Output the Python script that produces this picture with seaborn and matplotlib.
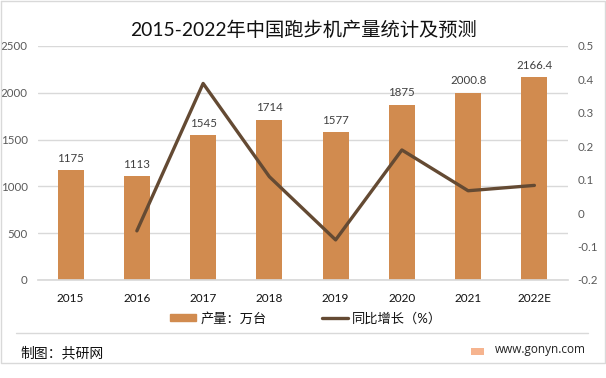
import matplotlib
matplotlib.use("Agg")
import matplotlib.pyplot as plt
from matplotlib.patches import Rectangle
from matplotlib.lines import Line2D
import seaborn as sns
import pandas as pd

years = ["2015", "2016", "2017", "2018", "2019", "2020", "2021", "2022E"]
output = [1175, 1113, 1545, 1714, 1577, 1875, 2000.8, 2166.4]
output_labels = ["1175", "1113", "1545", "1714", "1577", "1875", "2000.8", "2166.4"]
growth = [None, -0.053, 0.388, 0.109, -0.08, 0.189, 0.067, 0.083]
left_ticks = [0, 500, 1000, 1500, 2000, 2500]
right_ticks = [-0.2, -0.1, 0, 0.1, 0.2, 0.3, 0.4, 0.5]
right_labels = ["-0.2", "-0.1", "0", "0.1", "0.2", "0.3", "0.4", "0.5"]
title = "2015-2022年中国跑步机产量统计及预测"
bar_name = "产量：万台"
line_name = "同比增长（%）"
credit = "制图：共研网"
site = "www.gonyn.com"

sns.set_theme(style="white")
FONT = ["Lato", "Noto Sans CJK SC", "DejaVu Sans"]
plt.rcParams["font.family"] = FONT

BAR = "#D18B4F"
LINE = "#644A33"
GRID = "#D9D9D9"
TICK = "#595959"
W, H = 606, 378

df = pd.DataFrame({"year": years, "output": output, "growth": growth})

fig = plt.figure(figsize=(W / 100, H / 100), dpi=100, facecolor="white")
ax = fig.add_axes([37.5 / W, 1 - 280 / H, 530 / W, 234 / H])

sns.barplot(data=df, x="year", y="output", color=BAR, saturation=1, width=0.39,
            ax=ax, zorder=2, linewidth=0)
ax.set_xlim(-0.5, 7.5)
ax.set_ylim(0, 2500)
ax.set_yticks(left_ticks)
ax.yaxis.grid(True, color=GRID, lw=1)
ax.set_axisbelow(True)
ax.set_xlabel("")
ax.set_ylabel("")
for s in ax.spines.values():
    s.set_visible(False)
ax.spines["bottom"].set_visible(True)
ax.spines["bottom"].set_color(GRID)
ax.tick_params(axis="y", length=0, labelsize=8.3, labelcolor=TICK, pad=7)
ax.tick_params(axis="x", length=0, labelsize=8.5, labelcolor="#111111", pad=9)

for i, v in enumerate(output):
    ax.annotate(output_labels[i], (i, v), xytext=(0, 4.5), textcoords="offset points",
                ha="center", va="bottom", fontsize=8.3, color="#404040", zorder=6)

ax2 = ax.twinx()
sns.lineplot(data=df, x="year", y="growth", color=LINE, lw=2.4, ax=ax2, zorder=5,
             sort=False, solid_joinstyle="round")
ax2.set_ylim(-0.2, 0.5)
ax2.set_yticks(right_ticks)
ax2.set_yticklabels(right_labels)
ax2.set_xlabel("")
ax2.set_ylabel("")
ax2.grid(False)
for s in ax2.spines.values():
    s.set_visible(False)
ax2.tick_params(axis="y", length=0, labelsize=8.3, labelcolor=TICK, pad=7)

fig.text(303.5 / W, 1 - 30 / H, title, ha="center", va="center", fontsize=13.9, color="#111111")

handles = [Rectangle((0, 0), 1, 1, color=BAR), Line2D([0], [0], color=LINE, lw=2.4)]
fig.legend(handles, [bar_name, line_name], loc="center", ncol=2,
           bbox_to_anchor=(306 / W, 1 - 318 / H), frameon=False, fontsize=9.5,
           handlelength=2.0, handleheight=0.4, handletextpad=0.3, columnspacing=4.2,
           labelcolor="#111111")

fig.add_artist(Line2D([16 / W, 588 / W], [1 - 332.5 / H] * 2, color=GRID, lw=1))
fig.text(20 / W, 1 - 353 / H, credit, ha="left", va="center", fontsize=10, color="#111111")
fig.text(495 / W, 1 - 349.5 / H, site, ha="left", va="center", fontsize=8.5, color="#222222",
         family=["Open Sans", "DejaVu Sans"])
fig.add_artist(Rectangle((471 / W, 1 - 355 / H), 13 / W, 7 / H, transform=fig.transFigure,
                         facecolor="#F6B48F", edgecolor="none"))

# outer frame of the picture
fig.add_artist(Line2D([1 / W, 1 / W, 605 / W, 605 / W, 1 / W],
                      [1 - 1 / H, 1 - 363 / H, 1 - 363 / H, 1 - 1 / H, 1 - 1 / H],
                      color=GRID, lw=1))

fig.savefig("out.png", dpi=100, facecolor="white")
